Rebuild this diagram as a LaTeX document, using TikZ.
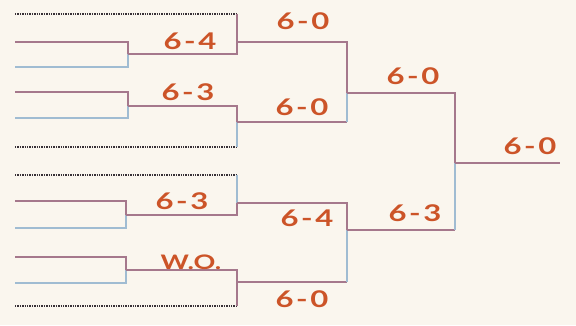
\documentclass[tikz,border=0pt]{standalone}
\usepackage{fontspec}
\setmainfont{Lato}
\usetikzlibrary{positioning}
\definecolor{paper}{RGB}{250,246,238}
\definecolor{winline}{RGB}{165,120,140}
\definecolor{loseline}{RGB}{160,188,210}
\definecolor{byeline}{RGB}{55,48,54}
\definecolor{scorered}{RGB}{204,84,40}
\newcommand{\handwide}[1]{\scalebox{1.35}[1]{#1}}
\tikzset{
  winpath/.style={draw=winline, line width=2pt},
  losepath/.style={draw=loseline, line width=1.2pt},
  byepath/.style={draw=byeline, line width=1.4pt, densely dotted},
  score/.style={text=scorered, font=\fontsize{23}{23}\selectfont\bfseries, inner sep=1pt},
  wo/.style={text=scorered, font=\fontsize{20}{20}\selectfont\bfseries, inner sep=1pt}
}

\begin{document}
\begin{tikzpicture}[x=1pt, y=-1pt]
  \fill[paper] (0,0) rectangle (576,325);
  \useasboundingbox (0,0) rectangle (576,325);

  % entry slots
  \coordinate (bye1) at (15,14);
  \coordinate (p1) at (15,42);
  \coordinate (p2) at (15,67);
  \coordinate (p3) at (15,92);
  \coordinate (p4) at (15,118);
  \coordinate (bye2) at (15,147);
  \coordinate (bye3) at (15,175);
  \coordinate (p5) at (15,201);
  \coordinate (p6) at (15,228);
  \coordinate (p7) at (15,257);
  \coordinate (p8) at (15,283);
  \coordinate (bye4) at (15,306);

  % junctions
  \coordinate (m1) at (128,54);
  \coordinate (m2) at (128,106);
  \coordinate (m3) at (126,215);
  \coordinate (m4) at (126,270);
  \coordinate (q1) at (237,42);
  \coordinate (q2) at (237,122);
  \coordinate (q3) at (237,203);
  \coordinate (q4) at (237,282);
  \coordinate (s1) at (347,93);
  \coordinate (s2) at (347,230);
  \coordinate (fin) at (455,163);
  \coordinate (champ) at (560,163);

  % first round
  \draw[winpath] (p1) -| (m1);
  \draw[losepath] (p2) -| (m1);
  \draw[winpath] (p3) -| (m2);
  \draw[losepath] (p4) -| (m2);
  \draw[winpath] (p5) -| (m3);
  \draw[losepath] (p6) -| (m3);
  \draw[winpath] (p7) -| (m4);
  \draw[losepath] (p8) -| (m4);

  % second round
  \draw[byepath] (bye1) -- (bye1 -| q1);
  \draw[winpath] (bye1 -| q1) -- (q1);
  \draw[winpath] (m1) -| (q1);
  \draw[winpath] (m2) -| (q2);
  \draw[byepath] (bye2) -- (bye2 -| q2);
  \draw[losepath] (bye2 -| q2) -- (q2);
  \draw[byepath] (bye3) -- (bye3 -| q3);
  \draw[losepath] (bye3 -| q3) -- (q3);
  \draw[winpath] (m3) -| (q3);
  \draw[winpath] (m4) -| (q4);
  \draw[byepath] (bye4) -- (bye4 -| q4);
  \draw[winpath] (bye4 -| q4) -- (q4);

  % semis and final
  \draw[winpath] (q1) -| (s1);
  \draw[winpath] (q2) -- (q2 -| s1);
  \draw[losepath] (q2 -| s1) -- (s1);
  \draw[winpath] (q3) -| (s2);
  \draw[winpath] (q4) -- (q4 -| s2);
  \draw[losepath] (q4 -| s2) -- (s2);
  \draw[winpath] (s1) -| (fin);
  \draw[winpath] (s2) -- (s2 -| fin);
  \draw[losepath] (s2 -| fin) -- (fin);
  \draw[winpath] (fin) -- (champ);

  % scores
  \node[score] (m1score) at (190,41) {\handwide{6\kern2pt-\kern2pt4}};
  \node[score] (m2score) at (188,92) {\handwide{6\kern2pt-\kern2pt3}};
  \node[score] (m3score) at (182,201) {\handwide{6\kern2pt-\kern2pt3}};
  \node[wo] (m4score) at (191,262) {\handwide{W.O.}};
  \node[score] (q1score) at (303,21) {\handwide{6\kern2pt-\kern2pt0}};
  \node[score] (q2score) at (302,107) {\handwide{6\kern2pt-\kern2pt0}};
  \node[score] (q3score) at (307,218) {\handwide{6\kern2pt-\kern2pt4}};
  \node[score] (q4score) at (302,299) {\handwide{6\kern2pt-\kern2pt0}};
  \node[score] (s1score) at (413,76) {\handwide{6\kern2pt-\kern2pt0}};
  \node[score] (s2score) at (415,213) {\handwide{6\kern2pt-\kern2pt3}};
  \node[score] (finscore) at (530,146) {\handwide{6\kern2pt-\kern2pt0}};
\end{tikzpicture}
\end{document}
